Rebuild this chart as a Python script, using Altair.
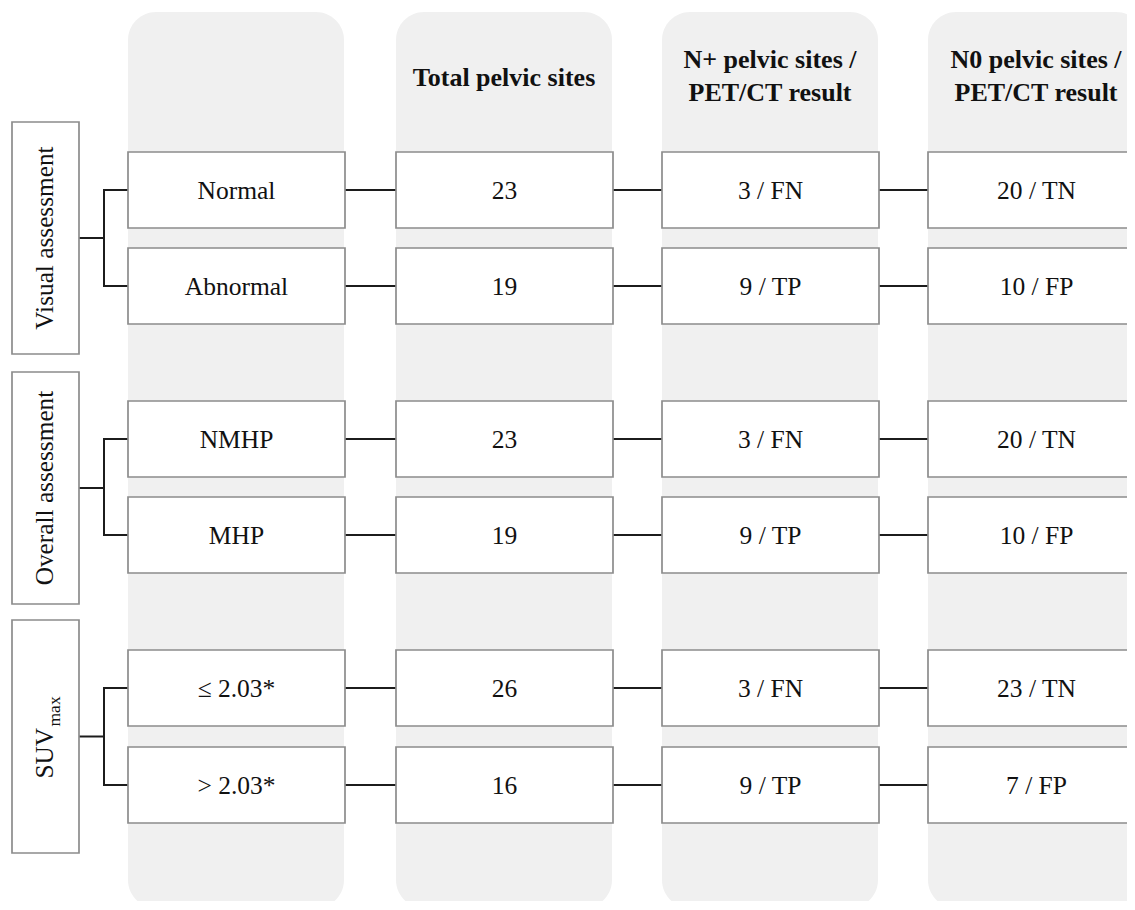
import altair as alt
import pandas as pd

# ---------------- data ----------------
group_labels = ["Visual assessment", "Overall assessment", "SUV"]
group_subscripts = ["", "", "max"]
row_labels = ["Normal", "Abnormal", "NMHP", "MHP", "≤ 2.03*", "> 2.03*"]
total_sites = [23, 19, 23, 19, 26, 16]
nplus_counts = [3, 9, 3, 9, 3, 9]
nplus_results = ["FN", "TP", "FN", "TP", "FN", "TP"]
n0_counts = [20, 10, 20, 10, 23, 7]
n0_results = ["TN", "FP", "TN", "FP", "TN", "FP"]
header_line1 = ["", "Total pelvic sites", "N+ pelvic sites /", "N0 pelvic sites /"]
header_line2 = ["", "", "PET/CT result", "PET/CT result"]

# ---------------- layout (reference pixel coordinates) ----------------
COL_LEFT = [128, 396, 662, 928]
COL_W = 216
BG_TOP, BG_BOTTOM = 12, 908
ROW_TOP = [152, 248, 401, 497, 650, 747]
ROW_H = 76
GROUP_BOX = [(122, 354), (372, 604), (620, 853)]
GROUP_X = (12, 79)
BRACKET_X = 104
LABEL_BASE_X = 53
FONT = "Liberation Serif"

W, H = 1119, 893
xs = alt.Scale(domain=[8, 8 + W], nice=False, zero=False)
ys = alt.Scale(domain=[8, 8 + H], nice=False, zero=False, reverse=True)


def X(f="x"):
    return alt.X(f"{f}:Q", scale=xs, axis=None)


def Y(f="y"):
    return alt.Y(f"{f}:Q", scale=ys, axis=None)


# background columns
bg = pd.DataFrame({"x": COL_LEFT, "x2": [c + COL_W for c in COL_LEFT],
                   "y": [BG_TOP] * 4, "y2": [BG_BOTTOM] * 4})
bg_layer = alt.Chart(bg).mark_rect(color="#f0f0f0", cornerRadius=28).encode(
    x=X(), x2="x2:Q", y=Y(), y2="y2:Q")

# cell texts
cells = []
for r in range(6):
    texts = [row_labels[r], str(total_sites[r]),
             f"{nplus_counts[r]} / {nplus_results[r]}",
             f"{n0_counts[r]} / {n0_results[r]}"]
    for c in range(4):
        cells.append({"x": COL_LEFT[c], "x2": COL_LEFT[c] + COL_W + 1,
                      "y": ROW_TOP[r], "y2": ROW_TOP[r] + ROW_H,
                      "cx": COL_LEFT[c] + (COL_W + 1) / 2,
                      "ty": ROW_TOP[r] + ROW_H / 2 + 8.5,
                      "text": texts[c]})
cells = pd.DataFrame(cells)
box_layer = alt.Chart(cells).mark_rect(fill="white", stroke="#8c8c8c", strokeWidth=1.7).encode(
    x=X(), x2="x2:Q", y=Y(), y2="y2:Q")
cell_text = alt.Chart(cells).mark_text(font=FONT, fontSize=25.5, color="#111111",
                                       align="center", baseline="alphabetic").encode(
    x=X("cx"), y=Y("ty"), text="text:N")

# group boxes
gb = pd.DataFrame({"x": [GROUP_X[0]] * 3, "x2": [GROUP_X[1]] * 3,
                   "y": [g[0] for g in GROUP_BOX], "y2": [g[1] for g in GROUP_BOX]})
gbox_layer = alt.Chart(gb).mark_rect(fill="white", stroke="#8c8c8c", strokeWidth=1.7).encode(
    x=X(), x2="x2:Q", y=Y(), y2="y2:Q")

plain, main_sub, subs = [], [], []
for i, g in enumerate(GROUP_BOX):
    cy = (g[0] + g[1]) / 2
    if group_subscripts[i]:
        main_sub.append({"x": LABEL_BASE_X, "y": cy + 42, "text": group_labels[i]})
        subs.append({"x": LABEL_BASE_X + 7, "y": cy - 10, "text": group_subscripts[i]})
    else:
        plain.append({"x": LABEL_BASE_X, "y": cy, "text": group_labels[i]})

glabel = alt.Chart(pd.DataFrame(plain)).mark_text(
    font=FONT, fontSize=25.3, color="#111111", angle=270, align="center",
    baseline="alphabetic").encode(x=X(), y=Y(), text="text:N")
gmain = alt.Chart(pd.DataFrame(main_sub)).mark_text(
    font=FONT, fontSize=25.3, color="#111111", angle=270, align="left",
    baseline="alphabetic").encode(x=X(), y=Y(), text="text:N")
gsub = alt.Chart(pd.DataFrame(subs)).mark_text(
    font=FONT, fontSize=17.5, color="#111111", angle=270, align="left",
    baseline="alphabetic").encode(x=X(), y=Y(), text="text:N")

# connectors
lines = []
for i, g in enumerate(GROUP_BOX):
    cy = (g[0] + g[1]) / 2
    ra, rb = 2 * i, 2 * i + 1
    ya = ROW_TOP[ra] + ROW_H / 2
    yb = ROW_TOP[rb] + ROW_H / 2
    lines.append({"x": GROUP_X[1], "x2": BRACKET_X, "y": cy, "y2": cy})
    lines.append({"x": BRACKET_X, "x2": BRACKET_X, "y": ya - 1, "y2": yb + 1})
    for yy in (ya, yb):
        lines.append({"x": BRACKET_X, "x2": COL_LEFT[0], "y": yy, "y2": yy})
for r in range(6):
    yy = ROW_TOP[r] + ROW_H / 2
    for c in range(3):
        lines.append({"x": COL_LEFT[c] + COL_W + 1, "x2": COL_LEFT[c + 1],
                      "y": yy, "y2": yy})
lines = pd.DataFrame(lines)
line_layer = alt.Chart(lines).mark_rule(color="#1c1c1c", strokeWidth=2).encode(
    x=X(), x2="x2:Q", y=Y(), y2="y2:Q")

# headers
hdr = []
for c in range(4):
    cx = COL_LEFT[c] + COL_W / 2
    if header_line1[c] and header_line2[c]:
        hdr.append({"x": cx, "y": 68, "text": header_line1[c]})
        hdr.append({"x": cx, "y": 101, "text": header_line2[c]})
    elif header_line1[c]:
        hdr.append({"x": cx, "y": 86, "text": header_line1[c]})
hdr_layer = alt.Chart(pd.DataFrame(hdr)).mark_text(
    font=FONT, fontSize=26, fontWeight="bold", color="#111111", align="center",
    baseline="alphabetic").encode(x=X(), y=Y(), text="text:N")

chart = alt.layer(bg_layer, line_layer, box_layer, gbox_layer, cell_text,
                  glabel, gmain, gsub, hdr_layer).properties(
    width=W, height=H, padding=0, autosize=alt.AutoSizeParams(type="none"),
    background="white"
).configure_view(stroke=None, clip=True)

chart.save("out.html", embed_options={"renderer": "svg", "actions": False})
